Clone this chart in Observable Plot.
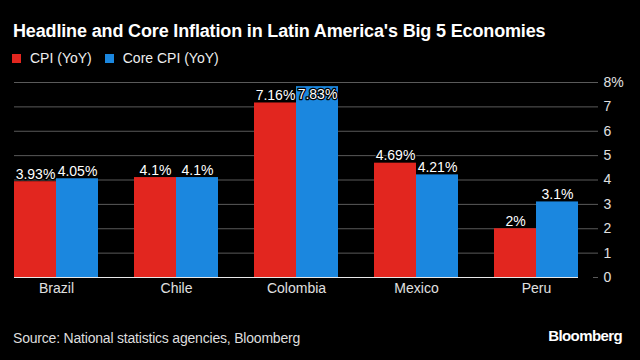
<!DOCTYPE html>
<html>
<head>
<meta charset="utf-8">
<script src="https://cdn.jsdelivr.net/npm/d3@7"></script>
<script src="https://cdn.jsdelivr.net/npm/@observablehq/plot@0.6"></script>
<style>
  html, body { margin: 0; padding: 0; background: #000; }
  body { width: 640px; height: 360px; position: relative; overflow: hidden; font-family: "Liberation Sans", Arial, sans-serif; color: #fff; }
  #title { position: absolute; left: 13px; top: 21px; font-size: 18px; font-weight: bold; letter-spacing: -0.15px; white-space: nowrap; }
  #legend { position: absolute; left: 12px; top: 50px; font-size: 14px; display: flex; align-items: center; white-space: nowrap; color: #eee; }
  #legend .sw { display: inline-block; width: 9px; height: 9px; margin-right: 9px; }
  #legend .item { display: flex; align-items: center; margin-right: 13px; }
  #chart { position: absolute; left: 0; top: 70px; }
  #source { position: absolute; left: 13px; top: 330px; font-size: 14px; color: #ddd; white-space: nowrap; letter-spacing: -0.2px; }
  #logo { position: absolute; right: 18px; top: 327px; font-size: 15px; font-weight: bold; letter-spacing: -0.6px; }
</style>
</head>
<body>
<div id="title">Headline and Core Inflation in Latin America's Big 5 Economies</div>
<div id="legend"></div>
<div id="chart"></div>
<div id="source">Source: National statistics agencies, Bloomberg</div>
<div id="logo">Bloomberg</div>
<script>
const countries = ["Brazil", "Chile", "Colombia", "Mexico", "Peru"];
const cpi = [3.93, 4.1, 7.16, 4.69, 2];
const coreCpi = [4.05, 4.1, 7.83, 4.21, 3.1];
const cpiLabels = ["3.93%", "4.1%", "7.16%", "4.69%", "2%"];
const coreLabels = ["4.05%", "4.1%", "7.83%", "4.21%", "3.1%"];
const seriesNames = ["CPI (YoY)", "Core CPI (YoY)"];
const seriesColors = ["#e2261f", "#1b87df"];
const yTicks = [0, 1, 2, 3, 4, 5, 6, 7, 8];

const rows = [];
countries.forEach((c, i) => {
  rows.push({country: c, series: seriesNames[0], value: cpi[i], label: cpiLabels[i]});
  rows.push({country: c, series: seriesNames[1], value: coreCpi[i], label: coreLabels[i]});
});
const red = rows.filter(d => d.series === seriesNames[0]);
const blue = rows.filter(d => d.series === seriesNames[1]);
const labelCap = 7.2;

const legend = document.getElementById("legend");
seriesNames.forEach((s, i) => {
  const it = document.createElement("span");
  it.className = "item";
  it.innerHTML = `<span class="sw" style="background:${seriesColors[i]}"></span>${s}`;
  legend.appendChild(it);
});

const half = 21;
const chart = Plot.plot({
  width: 640,
  height: 230,
  marginLeft: 14,
  marginRight: 42,
  marginTop: 12,
  marginBottom: 23,
  style: {background: "transparent", color: "#ddd", fontFamily: "Liberation Sans, Arial, sans-serif", fontSize: "14px"},
  x: {domain: countries, paddingInner: 0.3, paddingOuter: 0, range: [14, 578], label: null},
  y: {domain: [0, 8], label: null},
  marks: [
    Plot.ruleY(yTicks.filter(t => t > 0), {y: d => d, stroke: "#5a5a5a", strokeWidth: 1}),
    Plot.ruleY([0], {stroke: "#5a5a5a", insetLeft: 579}),
    Plot.barY(red, {x: "country", y: "value", fill: seriesColors[0], insetRight: 42}),
    Plot.barY(blue, {x: "country", y: "value", fill: seriesColors[1], insetLeft: 42}),
    Plot.ruleY([0], {stroke: "#e8e8e8", strokeWidth: 1.2, insetRight: 20}),
    Plot.text(red, {x: "country", y: d => Math.min(d.value, labelCap), text: "label", dx: -half, dy: -3, lineAnchor: "bottom", fill: "#fff", stroke: "#000", strokeWidth: 2.5, fontSize: 14}),
    Plot.text(blue, {x: "country", y: d => Math.min(d.value, labelCap), text: "label", dx: half, dy: -3, lineAnchor: "bottom", fill: "#fff", stroke: "#000", strokeWidth: 2.5, fontSize: 14}),
    Plot.axisX({tickSize: 0, tickPadding: 6, fontSize: 14, fill: "#e0e0e0"}),
    Plot.axisY({anchor: "right", ticks: yTicks, tickSize: 0, tickPadding: 5, tickFormat: d => d === 8 ? "8%" : String(d), fontSize: 14, fill: "#e0e0e0"})
  ]
});
document.getElementById("chart").appendChild(chart);
</script>
</body>
</html>
